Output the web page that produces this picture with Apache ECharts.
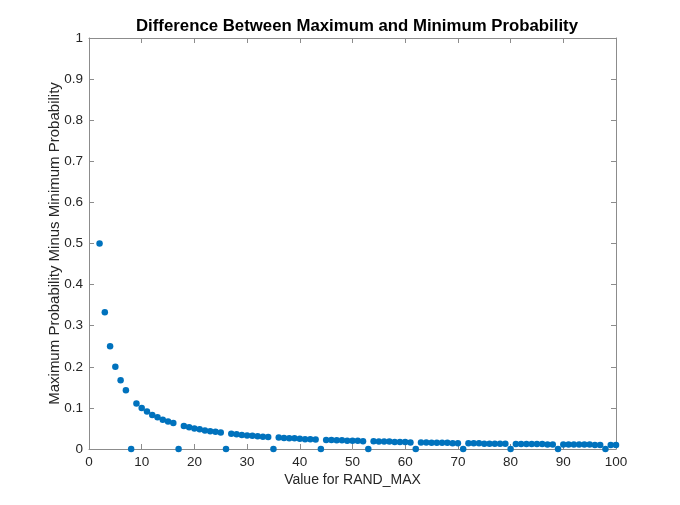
<!DOCTYPE html>
<html>
<head>
<meta charset="utf-8">
<script src="https://cdn.jsdelivr.net/npm/echarts@6/dist/echarts.min.js"></script>
<style>
html,body{margin:0;padding:0;background:#fff;}
#chart{width:680px;height:505px;}
</style>
</head>
<body>
<div id="chart"></div>
<script>
const chartTitle = 'Difference Between Maximum and Minimum Probability';
const xLabel = 'Value for RAND_MAX';
const yLabel = 'Maximum Probability Minus Minimum Probability';

const randMax = [2,3,4,5,6,7,8,9,10,11,12,13,14,15,16,17,18,19,20,21,22,23,24,25,26,27,28,29,30,
  31,32,33,34,35,36,37,38,39,40,41,42,43,44,45,46,47,48,49,50,51,52,53,54,55,56,57,58,59,60,
  61,62,63,64,65,66,67,68,69,70,71,72,73,74,75,76,77,78,79,80,81,82,83,84,85,86,87,88,89,90,
  91,92,93,94,95,96,97,98,99,100];

const probDiff = [0.5,0.333,0.25,0.2,0.167,0.143,0,0.111,0.1,0.091,0.083,0.077,0.071,0.067,0.063,0,
  0.056,0.053,0.05,0.048,0.045,0.043,0.042,0.04,0,0.037,0.036,0.034,0.033,0.032,0.031,0.030,0.029,0,
  0.028,0.027,0.026,0.026,0.025,0.024,0.024,0.023,0,0.022,0.022,0.021,0.021,0.020,0.020,0.020,0.019,0,
  0.019,0.018,0.018,0.018,0.017,0.017,0.017,0.016,0,0.016,0.016,0.015,0.015,0.015,0.015,0.014,0.014,0,
  0.014,0.014,0.014,0.013,0.013,0.013,0.013,0.013,0,0.012,0.012,0.012,0.012,0.012,0.012,0.011,0.011,0,
  0.011,0.011,0.011,0.011,0.011,0.011,0.010,0.010,0,0.010,0.010];

const points = randMax.map((x, i) => [x, probDiff[i]]);

const axisColor = '#8c8c8c';
const labelColor = '#262626';
const font = 'Liberation Sans, Arial, Helvetica, sans-serif';

const chart = echarts.init(document.getElementById('chart'), null, {renderer: 'canvas'});
const baseX = {
  type: 'value', min: 0, max: 100, interval: 10,
  axisLine: {show: true, onZero: false, lineStyle: {color: axisColor, width: 1}},
  axisTick: {show: true, inside: true, length: 5, lineStyle: {color: axisColor}},
  splitLine: {show: false}
};
const baseY = {
  type: 'value', min: 0, max: 1, interval: 0.1,
  axisLine: {show: true, onZero: false, lineStyle: {color: axisColor, width: 1}},
  axisTick: {show: true, inside: true, length: 5, lineStyle: {color: axisColor}},
  splitLine: {show: false}
};
chart.setOption({
  animation: false,
  backgroundColor: '#ffffff',
  title: {
    text: chartTitle,
    left: 352, top: 13, textAlign: 'center',
    textStyle: {fontFamily: font, fontSize: 16.8, fontWeight: 'bold', color: '#000'}
  },
  grid: {left: 89, right: 64, top: 38, bottom: 56, containLabel: false},
  xAxis: [
    Object.assign({}, baseX, {
      position: 'bottom',
      name: xLabel, nameLocation: 'middle', nameGap: 24, nameMoveOverlap: false,
      nameTextStyle: {fontFamily: font, fontSize: 14, color: labelColor},
      axisLabel: {show: true, fontFamily: font, fontSize: 13.5, color: labelColor, margin: 6,
        formatter: v => String(v)}
    }),
    Object.assign({}, baseX, {position: 'top', axisLabel: {show: false}})
  ],
  yAxis: [
    Object.assign({}, baseY, {
      position: 'left',
      name: yLabel, nameLocation: 'middle', nameGap: 27, nameMoveOverlap: false,
      nameTextStyle: {fontFamily: font, fontSize: 15, color: labelColor},
      axisLabel: {show: true, fontFamily: font, fontSize: 13.5, color: labelColor, margin: 6,
        formatter: v => (Math.round(v * 10) / 10).toString()}
    }),
    Object.assign({}, baseY, {position: 'right', axisLabel: {show: false}})
  ],
  series: [{
    type: 'scatter',
    data: points,
    symbol: 'circle',
    symbolSize: 6.5,
    itemStyle: {color: '#0072BD', opacity: 1},
    clip: false
  }]
});
</script>
</body>
</html>
